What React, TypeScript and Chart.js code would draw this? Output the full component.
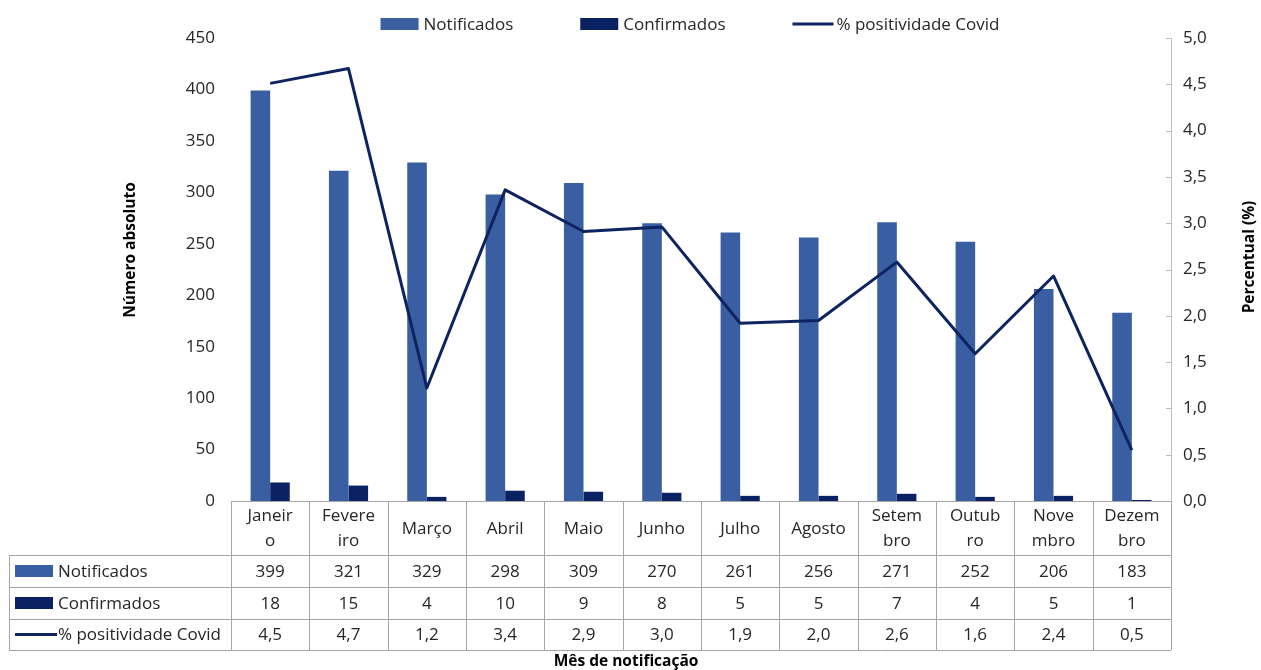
import { useEffect, useRef } from "react";
import { Chart, registerables } from "chart.js";

Chart.register(...registerables);

const months = ["Janeiro", "Fevereiro", "Março", "Abril", "Maio", "Junho", "Julho", "Agosto", "Setembro", "Outubro", "Novembro", "Dezembro"];
const monthHeaderLines = [["Janeir", "o"], ["Fevere", "iro"], ["Março"], ["Abril"], ["Maio"], ["Junho"], ["Julho"], ["Agosto"], ["Setem", "bro"], ["Outub", "ro"], ["Nove", "mbro"], ["Dezem", "bro"]];
const notificados = [399, 321, 329, 298, 309, 270, 261, 256, 271, 252, 206, 183];
const confirmados = [18, 15, 4, 10, 9, 8, 5, 5, 7, 4, 5, 1];
const positividade = [4.51, 4.67, 1.22, 3.36, 2.91, 2.96, 1.92, 1.95, 2.58, 1.59, 2.43, 0.55];
const positividadeTabela = ["4,5", "4,7", "1,2", "3,4", "2,9", "3,0", "1,9", "2,0", "2,6", "1,6", "2,4", "0,5"];
const leftTicksMax = 450;
const rightTicksMax = 5;

const COLOR_NOT = "#3A5EA2";
const COLOR_CONF = "#0B2262";
const COLOR_LINE = "#0E2461";
const TEXT = "#262626";
const BORDER = "#a6a6a6";
const FONT = "'Open Sans', sans-serif";

const seriesNames = ["Notificados", "Confirmados", "% positividade Covid"];

const drawKey = (ctx: CanvasRenderingContext2D, kind: number, x: number, y: number, w: number) => {
  if (kind === 2) {
    ctx.strokeStyle = COLOR_LINE;
    ctx.lineWidth = 3;
    ctx.beginPath();
    ctx.moveTo(x, y);
    ctx.lineTo(x + w, y);
    ctx.stroke();
  } else {
    ctx.fillStyle = kind === 0 ? COLOR_NOT : COLOR_CONF;
    ctx.fillRect(x, y - 6, w, 12);
  }
};

const extrasPlugin = {
  id: "extras",
  afterDraw(chart: any) {
    const { ctx, chartArea, scales } = chart;
    const yR = scales.y1;
    const left = chartArea.left;
    const right = chartArea.right;
    const bottom = chartArea.bottom;
    const n = months.length;
    const catW = (right - left) / n;
    ctx.save();

    // right axis tick marks
    ctx.strokeStyle = "#bfbfbf";
    ctx.lineWidth = 1;
    yR.ticks.forEach((t: any) => {
      const py = Math.round(yR.getPixelForValue(t.value)) + 0.5;
      ctx.beginPath();
      ctx.moveTo(right - 5, py);
      ctx.lineTo(right, py);
      ctx.stroke();
    });

    // legend
    ctx.font = `17px ${FONT}`;
    ctx.textBaseline = "middle";
    ctx.textAlign = "left";
    const keyW = [38, 38, 41];
    const keyGap = [5, 5, 3];
    const spacing = 67;
    const widths = seriesNames.map((s, i) => keyW[i] + keyGap[i] + ctx.measureText(s).width);
    const total = widths.reduce((a, b) => a + b, 0) + spacing * (widths.length - 1);
    let lx = 690 - total / 2;
    const ly = 24;
    seriesNames.forEach((s, i) => {
      drawKey(ctx, i, lx, ly, keyW[i]);
      ctx.fillStyle = TEXT;
      ctx.fillText(s, lx + keyW[i] + keyGap[i], ly + 1);
      lx += widths[i] + spacing;
    });

    // table
    const tLeft = 9;
    const hTop = bottom;
    const hBot = hTop + 54;
    const rows = [hBot, hBot + 32, hBot + 64, hBot + 95];
    const px = (v: number) => Math.round(v) + 0.5;
    ctx.strokeStyle = BORDER;
    ctx.lineWidth = 1;
    ctx.beginPath();
    ctx.moveTo(left, px(hTop));
    ctx.lineTo(right, px(hTop));
    rows.forEach((ry) => {
      ctx.moveTo(tLeft, px(ry));
      ctx.lineTo(right, px(ry));
    });
    for (let i = 0; i <= n; i++) {
      const bx = px(left + i * catW);
      ctx.moveTo(bx, hTop);
      ctx.lineTo(bx, rows[3]);
    }
    ctx.moveTo(px(tLeft), rows[0]);
    ctx.lineTo(px(tLeft), rows[3]);
    ctx.stroke();

    ctx.font = `17px ${FONT}`;
    ctx.fillStyle = TEXT;
    ctx.textAlign = "center";
    const hMid = (hTop + hBot) / 2;
    monthHeaderLines.forEach((lines, i) => {
      const cx = left + (i + 0.5) * catW;
      if (lines.length === 1) {
        ctx.fillText(lines[0], cx, hMid + 1);
      } else {
        ctx.fillText(lines[0], cx, hMid - 12);
        ctx.fillText(lines[1], cx, hMid + 13);
      }
    });
    const rowVals = [notificados.map(String), confirmados.map(String), positividadeTabela];
    rowVals.forEach((vals, r) => {
      const cy = (rows[r] + rows[r + 1]) / 2 + 1;
      vals.forEach((v, i) => {
        const cx = left + (i + 0.5) * catW;
        ctx.fillText(v, cx, cy);
      });
      ctx.textAlign = "left";
      drawKey(ctx, r, tLeft + 6, cy - 1, r === 2 ? 42 : 38);
      ctx.fillStyle = TEXT;
      ctx.fillText(seriesNames[r], tLeft + 49, cy);
      ctx.textAlign = "center";
    });

    // axis titles
    ctx.font = `bold 15.5px ${FONT}`;
    ctx.fillStyle = "#000";
    ctx.textAlign = "center";
    ctx.fillText("Mês de notificação", 626, 662);
    ctx.save();
    ctx.translate(131, 250);
    ctx.rotate(-Math.PI / 2);
    ctx.fillText("Número absoluto", 0, 0);
    ctx.restore();
    ctx.save();
    ctx.translate(1250, 257);
    ctx.rotate(-Math.PI / 2);
    ctx.fillText("Percentual (%)", 0, 0);
    ctx.restore();

    ctx.restore();
  },
};

export default function App() {
  const ref = useRef<HTMLCanvasElement | null>(null);
  useEffect(() => {
    document.body.style.margin = "0";
    const canvas = ref.current;
    if (!canvas) return;
    const chart = new Chart(canvas, {
      type: "bar",
      data: {
        labels: months,
        datasets: [
          {
            label: seriesNames[0],
            data: notificados,
            backgroundColor: COLOR_NOT,
            yAxisID: "y",
            order: 2,
            categoryPercentage: 0.5,
            barPercentage: 1.0,
          } as any,
          {
            label: seriesNames[1],
            data: confirmados,
            backgroundColor: COLOR_CONF,
            yAxisID: "y",
            order: 2,
            categoryPercentage: 0.5,
            barPercentage: 1.0,
          } as any,
          {
            type: "line",
            label: seriesNames[2],
            data: positividade,
            borderColor: COLOR_LINE,
            backgroundColor: COLOR_LINE,
            borderWidth: 3,
            pointRadius: 0,
            tension: 0,
            yAxisID: "y1",
            order: 1,
            borderJoinStyle: "round",
          } as any,
        ],
      },
      options: {
        responsive: true,
        maintainAspectRatio: false,
        animation: false,
        layout: { padding: { top: 38, bottom: 169, left: 0, right: 0 } },
        plugins: {
          legend: { display: false },
          tooltip: { enabled: false },
        },
        scales: {
          x: { display: false, offset: true },
          y: {
            position: "left",
            min: 0,
            max: leftTicksMax,
            ticks: { stepSize: 50, padding: 16, color: TEXT, font: { family: FONT, size: 17 } },
            grid: { display: false, drawTicks: false },
            border: { display: false },
            afterFit: (s: any) => {
              s.width = 231;
            },
          },
          y1: {
            position: "right",
            min: 0,
            max: rightTicksMax,
            ticks: {
              stepSize: 0.5,
              padding: 12,
              color: TEXT,
              font: { family: FONT, size: 17 },
              callback: (v: any) => Number(v).toFixed(1).replace(".", ","),
            },
            grid: { display: false, drawTicks: false },
            border: { display: true, color: "#bfbfbf", width: 1 },
            afterFit: (s: any) => {
              s.width = 90;
            },
          },
        },
      } as any,
      plugins: [extrasPlugin],
    });
    return () => chart.destroy();
  }, []);
  return (
    <div style={{ position: "relative", width: 1261, height: 670 }}>
      <canvas ref={ref} />
    </div>
  );
}
